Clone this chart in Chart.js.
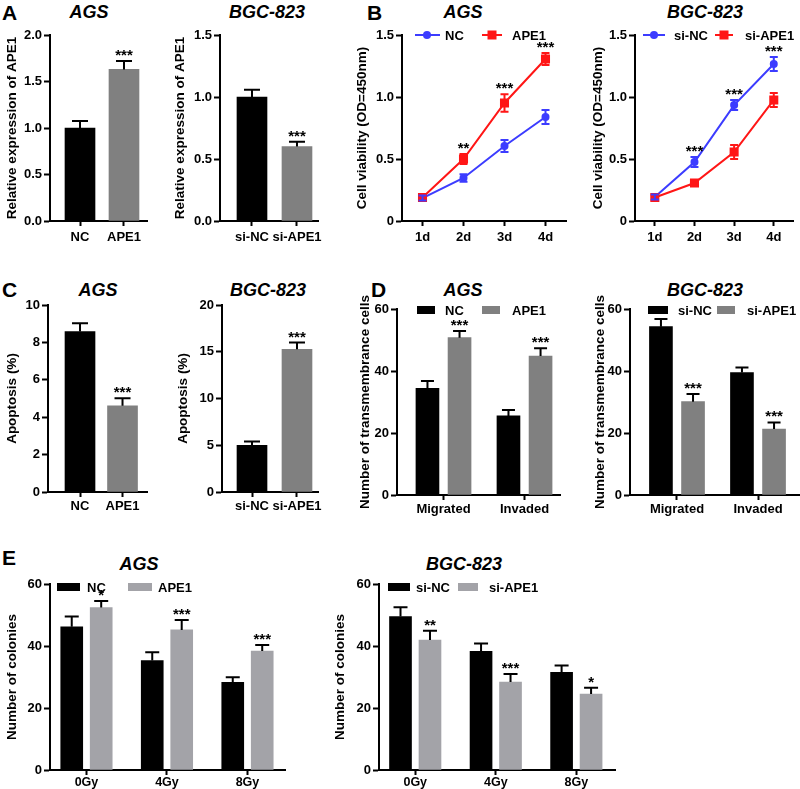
<!DOCTYPE html>
<html>
<head>
<meta charset="utf-8">
<script src="https://cdn.jsdelivr.net/npm/chart.js@4.4.0/dist/chart.umd.min.js"></script>
<style>
body { margin: 0; background: #fff; width: 800px; height: 789px; position: relative; overflow: hidden;
       font-family: 'Liberation Sans', Arial, sans-serif; }
canvas { position: absolute; }
.lbl { position: absolute; font-weight: bold; color: #000; white-space: nowrap; line-height: 1; }
.panel { font-size: 21px; }
.ttl { font-size: 18px; font-style: italic; transform: translate(-50%, -50%); }
</style>
</head>
<body>
<div class="lbl panel" style="left:2px;top:2px">A</div>
<div class="lbl panel" style="left:367px;top:2px">B</div>
<div class="lbl panel" style="left:2px;top:279px">C</div>
<div class="lbl panel" style="left:371px;top:279px">D</div>
<div class="lbl panel" style="left:2px;top:547px">E</div>

<div class="lbl ttl" style="left:89px;top:12px">AGS</div>
<div class="lbl ttl" style="left:267px;top:12px">BGC-823</div>
<div class="lbl ttl" style="left:463px;top:12px">AGS</div>
<div class="lbl ttl" style="left:705px;top:12px">BGC-823</div>
<div class="lbl ttl" style="left:98px;top:290px">AGS</div>
<div class="lbl ttl" style="left:268px;top:290px">BGC-823</div>
<div class="lbl ttl" style="left:463px;top:290px">AGS</div>
<div class="lbl ttl" style="left:705px;top:290px">BGC-823</div>
<div class="lbl ttl" style="left:139px;top:564px">AGS</div>
<div class="lbl ttl" style="left:464px;top:564px">BGC-823</div>

<canvas id="a1"></canvas>
<canvas id="a2"></canvas>
<canvas id="b1"></canvas>
<canvas id="b2"></canvas>
<canvas id="c1"></canvas>
<canvas id="c2"></canvas>
<canvas id="d1"></canvas>
<canvas id="d2"></canvas>
<canvas id="e1"></canvas>
<canvas id="e2"></canvas>

<script>
// ---- data ----
// A: relative APE1 expression
const aAgsGroups = ['NC', 'APE1'];
const aAgsExpr = [1.0, 1.63];
const aAgsSd = [0.075, 0.09];
const aAgsSig = ['', '***'];

const aBgcGroups = ['si-NC', 'si-APE1'];
const aBgcExpr = [1.0, 0.60];
const aBgcSd = [0.058, 0.04];
const aBgcSig = ['', '***'];

// B: cell viability (OD=450nm)
const days = ['1d', '2d', '3d', '4d'];
const bAgsNC = [0.185, 0.347, 0.605, 0.839];
const bAgsNCSd = [0.02, 0.03, 0.048, 0.056];
const bAgsAPE1 = [0.19, 0.50, 0.952, 1.306];
const bAgsAPE1Sd = [0.02, 0.04, 0.07, 0.048];
const bAgsSig = ['', '**', '***', '***'];

const bBgcSiNC = [0.194, 0.476, 0.935, 1.266];
const bBgcSiNCSd = [0.02, 0.04, 0.04, 0.056];
const bBgcSiAPE1 = [0.19, 0.306, 0.556, 0.976];
const bBgcSiAPE1Sd = [0.02, 0.024, 0.056, 0.056];
const bBgcSig = ['', '***', '***', '***'];

// C: apoptosis (%)
const cAgsApop = [8.58, 4.61];
const cAgsSd = [0.44, 0.41];
const cAgsSig = ['', '***'];
const cBgcApop = [4.98, 15.27];
const cBgcSd = [0.43, 0.71];
const cBgcSig = ['', '***'];

// D: transmembrance cells
const assays = ['Migrated', 'Invaded'];
const dAgsNC = [34.4, 25.5];
const dAgsNCSd = [2.4, 1.9];
const dAgsAPE1 = [50.75, 44.8];
const dAgsAPE1Sd = [2.15, 2.5];
const dAgsSig = ['***', '***'];
const dBgcSiNC = [54.3, 39.5];
const dBgcSiNCSd = [2.5, 1.6];
const dBgcSiAPE1 = [30.1, 21.3];
const dBgcSiAPE1Sd = [2.5, 2.1];
const dBgcSig = ['***', '***'];

// E: colonies after irradiation
const doses = ['0Gy', '4Gy', '8Gy'];
const eAgsNC = [46.2, 35.3, 28.3];
const eAgsNCSd = [3.3, 2.7, 1.6];
const eAgsAPE1 = [52.4, 45.2, 38.4];
const eAgsAPE1Sd = [2.1, 3.2, 1.9];
const eAgsSig = ['*', '***', '***'];
const eBgcSiNC = [49.5, 38.3, 31.5];
const eBgcSiNCSd = [3.0, 2.5, 2.2];
const eBgcSiAPE1 = [41.9, 28.4, 24.5];
const eBgcSiAPE1Sd = [3.0, 2.6, 2.0];
const eBgcSig = ['**', '***', '*'];

// ---- styling ----
const FONT = "'Liberation Sans', Arial, sans-serif";
const BLACK = '#000000';
const GRAY = '#808080';
const LIGHT_GRAY = '#a3a3a8';
const BLUE = '#3c3cff';
const RED = '#ff1616';

Chart.defaults.font.family = FONT;
Chart.defaults.font.weight = 'bold';
Chart.defaults.font.size = 13;
Chart.defaults.color = '#000';
Chart.defaults.animation = false;
Chart.defaults.plugins.legend.display = false;
Chart.defaults.plugins.tooltip.enabled = false;

// error bars + significance stars
const prismMarks = {
    id: 'prismMarks',
    afterDatasetsDraw(chart) {
        const ctx = chart.ctx;
        const ys = chart.scales.y;
        const isBar = chart.config.type === 'bar';
        chart.data.datasets.forEach((ds, di) => {
            if (!ds.sd) return;
            const meta = chart.getDatasetMeta(di);
            meta.data.forEach((el, i) => {
                const d = ds.data[i];
                const v = typeof d === 'object' ? d.y : d;
                const hi = ys.getPixelForValue(v + ds.sd[i]);
                const cap = ds.cap || 12;
                ctx.save();
                ctx.strokeStyle = isBar ? BLACK : ds.borderColor;
                ctx.lineWidth = 2;
                ctx.beginPath();
                if (isBar) {
                    ctx.moveTo(el.x, el.y);
                    ctx.lineTo(el.x, hi);
                    ctx.moveTo(el.x - cap / 2, hi);
                    ctx.lineTo(el.x + cap / 2, hi);
                } else {
                    const lo = ys.getPixelForValue(v - ds.sd[i]);
                    ctx.moveTo(el.x, lo);
                    ctx.lineTo(el.x, hi);
                    ctx.moveTo(el.x - cap / 2, hi);
                    ctx.lineTo(el.x + cap / 2, hi);
                    ctx.moveTo(el.x - cap / 2, lo);
                    ctx.lineTo(el.x + cap / 2, lo);
                }
                ctx.stroke();
                if (ds.sig && ds.sig[i]) {
                    ctx.fillStyle = BLACK;
                    ctx.font = 'bold 15px ' + FONT;
                    ctx.textAlign = 'center';
                    ctx.textBaseline = 'alphabetic';
                    ctx.fillText(ds.sig[i], el.x, hi - 1);
                }
                ctx.restore();
            });
        });
    }
};

// legend drawn inside the plot area, Prism style
const prismLegend = {
    id: 'prismLegend',
    afterDraw(chart, args, o) {
        if (!o || !o.items) return;
        const ctx = chart.ctx;
        const { left, top } = chart.chartArea;
        const y = top + (o.dy || 0);
        ctx.save();
        o.items.forEach(it => {
            if (it.kind === 'box') {
                ctx.fillStyle = it.color;
                ctx.fillRect(left + it.x0, y - 4, it.x1 - it.x0, 8);
            } else {
                ctx.strokeStyle = it.color;
                ctx.fillStyle = it.color;
                ctx.lineWidth = 2;
                ctx.beginPath();
                ctx.moveTo(left + it.x0, y);
                ctx.lineTo(left + it.x1, y);
                ctx.stroke();
                const mx = left + it.mx;
                if (it.marker === 'circle') {
                    ctx.beginPath();
                    ctx.arc(mx, y, 4, 0, Math.PI * 2);
                    ctx.fill();
                } else {
                    ctx.fillRect(mx - 4.5, y - 4.5, 9, 9);
                }
            }
            ctx.fillStyle = BLACK;
            ctx.font = 'bold 13px ' + FONT;
            ctx.textAlign = 'left';
            ctx.textBaseline = 'middle';
            ctx.fillText(it.text, left + it.tx, y + 1);
        });
        ctx.restore();
    }
};

Chart.register(prismMarks, prismLegend);

function yAxis(cfg, box, area) {
    return {
        min: 0,
        max: cfg.max,
        ticks: { stepSize: cfg.step, padding: 2, callback: cfg.fmt || (v => v) },
        grid: { display: true, drawOnChartArea: false, drawTicks: true, tickLength: 6, tickWidth: 2, tickColor: BLACK },
        border: { display: true, color: BLACK, width: 2 },
        title: {
            display: true, text: cfg.title, color: BLACK,
            font: { size: 13.5, weight: 'bold' },
            padding: { top: cfg.titlePad, bottom: 0 }
        },
        afterFit: s => { s.width = area.l - box.x; }
    };
}

function place(id, box) {
    const cv = document.getElementById(id);
    cv.width = box.w;
    cv.height = box.h;
    cv.style.left = box.x + 'px';
    cv.style.top = box.y + 'px';
    return cv;
}

function padding(box, area) {
    return { left: 0, top: area.t - box.y, right: box.x + box.w - area.r, bottom: 0 };
}

// bar charts on a linear x axis so bar centres can follow the original spacing
function barChart(id, box, area, cfg) {
    const cv = place(id, box);
    const datasets = cfg.series.map(s => ({
        data: s.values.map((v, i) => ({ x: i + 1 + (s.shift || 0), y: v })),
        backgroundColor: s.color,
        borderWidth: 0,
        barThickness: cfg.thickness,
        grouped: false,
        sd: s.sd,
        sig: s.sig,
        cap: cfg.cap
    }));
    return new Chart(cv.getContext('2d'), {
        type: 'bar',
        data: { datasets },
        options: {
            responsive: false,
            layout: { padding: padding(box, area) },
            scales: {
                x: {
                    type: 'linear',
                    min: cfg.xmin,
                    max: cfg.xmax,
                    offset: false,
                    afterBuildTicks: s => { s.ticks = cfg.groups.map((g, i) => ({ value: i + 1 })); },
                    ticks: {
                        autoSkip: false, maxRotation: 0, padding: cfg.tickPad,
                        font: { size: cfg.xFont || 13 },
                        callback: v => cfg.groups[Math.round(v) - 1] || ''
                    },
                    grid: { display: true, offset: false, drawOnChartArea: false, drawTicks: true, tickLength: 5, tickWidth: 2, tickColor: BLACK },
                    border: { display: true, color: BLACK, width: 2 },
                    afterFit: s => { s.height = box.y + box.h - area.b; }
                },
                y: yAxis(cfg.y, box, area)
            },
            plugins: { prismLegend: cfg.legend || {} }
        }
    });
}

function lineChart(id, box, area, cfg) {
    const cv = place(id, box);
    const datasets = cfg.series.map(s => ({
        data: s.values,
        borderColor: s.color,
        backgroundColor: s.color,
        borderWidth: 2,
        tension: 0,
        pointStyle: s.marker,
        pointRadius: s.marker === 'rect' ? 6.4 : 4,
        pointBorderWidth: 0,
        sd: s.sd,
        sig: s.sig,
        cap: 8
    }));
    return new Chart(cv.getContext('2d'), {
        type: 'line',
        data: { labels: days, datasets },
        options: {
            responsive: false,
            layout: { padding: padding(box, area) },
            scales: {
                x: {
                    type: 'category',
                    offset: true,
                    ticks: { padding: 4, maxRotation: 0 },
                    grid: { display: true, offset: false, drawOnChartArea: false, drawTicks: true, tickLength: 5, tickWidth: 2, tickColor: BLACK },
                    border: { display: true, color: BLACK, width: 2 },
                    afterFit: s => { s.height = box.y + box.h - area.b; }
                },
                y: yAxis(cfg.y, box, area)
            },
            plugins: { prismLegend: cfg.legend || {} }
        }
    });
}

const oneDec = v => v.toFixed(1);
const zeroPlain = v => (v === 0 ? '0' : v.toFixed(1));

// ---- A ----
barChart('a1', { x: 0, y: 20, w: 160, h: 232 }, { l: 50, t: 35, r: 147, b: 221 }, {
    groups: aAgsGroups, xmin: 0.318, xmax: 2.523, thickness: 30, cap: 16, tickPad: 4,
    series: [{ values: aAgsExpr, sd: aAgsSd, sig: aAgsSig, color: [BLACK, GRAY] }],
    y: { max: 2, step: 0.5, fmt: oneDec, title: 'Relative expression of APE1', titlePad: 4 }
});
barChart('a2', { x: 165, y: 20, w: 165, h: 232 }, { l: 220, t: 35, r: 318, b: 221 }, {
    groups: aBgcGroups, xmin: 0.289, xmax: 2.467, thickness: 30, cap: 16, tickPad: 4,
    series: [{ values: aBgcExpr, sd: aBgcSd, sig: aBgcSig, color: [BLACK, GRAY] }],
    y: { max: 1.5, step: 0.5, fmt: oneDec, title: 'Relative expression of APE1', titlePad: 7 }
});

// ---- B ----
lineChart('b1', { x: 350, y: 20, w: 225, h: 232 }, { l: 402, t: 35, r: 566, b: 221 }, {
    series: [
        { values: bAgsAPE1, sd: bAgsAPE1Sd, sig: bAgsSig, color: RED, marker: 'rect' },
        { values: bAgsNC, sd: bAgsNCSd, color: BLUE, marker: 'circle' }
    ],
    y: { max: 1.5, step: 0.5, fmt: zeroPlain, title: 'Cell viability (OD=450nm)', titlePad: 4 },
    legend: { dy: 0, items: [
        { kind: 'line', color: BLUE, x0: 13, x1: 38, mx: 25, marker: 'circle', tx: 43, text: 'NC' },
        { kind: 'line', color: RED, x0: 80, x1: 100, mx: 90, marker: 'rect', tx: 110, text: 'APE1' }
    ] }
});
lineChart('b2', { x: 585, y: 20, w: 215, h: 232 }, { l: 635, t: 35, r: 799, b: 221 }, {
    series: [
        { values: bBgcSiAPE1, sd: bBgcSiAPE1Sd, color: RED, marker: 'rect' },
        { values: bBgcSiNC, sd: bBgcSiNCSd, sig: bBgcSig, color: BLUE, marker: 'circle' }
    ],
    y: { max: 1.5, step: 0.5, fmt: zeroPlain, title: 'Cell viability (OD=450nm)', titlePad: 5 },
    legend: { dy: 0, items: [
        { kind: 'line', color: BLUE, x0: 8, x1: 30, mx: 19, marker: 'circle', tx: 39, text: 'si-NC' },
        { kind: 'line', color: RED, x0: 80, x1: 98, mx: 89, marker: 'rect', tx: 110, text: 'si-APE1' }
    ] }
});

// ---- C ----
barChart('c1', { x: 0, y: 290, w: 160, h: 230 }, { l: 48, t: 305, r: 147, b: 492 }, {
    groups: aAgsGroups, xmin: 0.247, xmax: 2.576, thickness: 30, cap: 16, tickPad: 2,
    series: [{ values: cAgsApop, sd: cAgsSd, sig: cAgsSig, color: [BLACK, GRAY] }],
    y: { max: 10, step: 2, title: 'Apoptosis (%)', titlePad: 4 }
});
barChart('c2', { x: 165, y: 290, w: 165, h: 230 }, { l: 222, t: 305, r: 318, b: 492 }, {
    groups: aBgcGroups, xmin: 0.333, xmax: 2.467, thickness: 30, cap: 16, tickPad: 2,
    series: [{ values: cBgcApop, sd: cBgcSd, sig: cBgcSig, color: [BLACK, GRAY] }],
    y: { max: 20, step: 5, title: 'Apoptosis (%)', titlePad: 10 }
});

// ---- D ----
barChart('d1', { x: 350, y: 290, w: 225, h: 230 }, { l: 397, t: 309, r: 560, b: 495 }, {
    groups: assays, xmin: 0.426, xmax: 2.438, thickness: 23, cap: 13, tickPad: 2,
    series: [
        { values: dAgsNC, sd: dAgsNCSd, color: BLACK, shift: -0.198 },
        { values: dAgsAPE1, sd: dAgsAPE1Sd, sig: dAgsSig, color: GRAY, shift: 0.198 }
    ],
    y: { max: 60, step: 20, title: 'Number of transmembrance cells', titlePad: 7 },
    legend: { dy: 1, items: [
        { kind: 'box', color: BLACK, x0: 20, x1: 38, tx: 48, text: 'NC' },
        { kind: 'box', color: GRAY, x0: 85, x1: 103, tx: 115, text: 'APE1' }
    ] }
});
barChart('d2', { x: 585, y: 290, w: 215, h: 230 }, { l: 630, t: 309, r: 799, b: 495 }, {
    groups: assays, xmin: 0.42, xmax: 2.506, thickness: 23, cap: 13, tickPad: 2,
    series: [
        { values: dBgcSiNC, sd: dBgcSiNCSd, color: BLACK, shift: -0.198 },
        { values: dBgcSiAPE1, sd: dBgcSiAPE1Sd, sig: dBgcSig, color: GRAY, shift: 0.198 }
    ],
    y: { max: 60, step: 20, title: 'Number of transmembrance cells', titlePad: 7 },
    legend: { dy: 1, items: [
        { kind: 'box', color: BLACK, x0: 18, x1: 38, tx: 48, text: 'si-NC' },
        { kind: 'box', color: GRAY, x0: 87, x1: 105, tx: 117, text: 'si-APE1' }
    ] }
});

// ---- E ----
barChart('e1', { x: 0, y: 570, w: 300, h: 219 }, { l: 50, t: 584, r: 285, b: 770 }, {
    groups: doses, xmin: 0.547, xmax: 3.466, thickness: 22, cap: 14, tickPad: 0, xFont: 12.5,
    series: [
        { values: eAgsNC, sd: eAgsNCSd, color: BLACK, shift: -0.183 },
        { values: eAgsAPE1, sd: eAgsAPE1Sd, sig: eAgsSig, color: LIGHT_GRAY, shift: 0.183 }
    ],
    y: { max: 60, step: 20, title: 'Number of colonies', titlePad: 4 },
    legend: { dy: 3, items: [
        { kind: 'box', color: BLACK, x0: 7, x1: 30, tx: 37, text: 'NC' },
        { kind: 'box', color: LIGHT_GRAY, x0: 78, x1: 102, tx: 108, text: 'APE1' }
    ] }
});
barChart('e2', { x: 325, y: 570, w: 300, h: 219 }, { l: 379, t: 584, r: 615, b: 770 }, {
    groups: doses, xmin: 0.55, xmax: 3.48, thickness: 22, cap: 14, tickPad: 0, xFont: 12.5,
    series: [
        { values: eBgcSiNC, sd: eBgcSiNCSd, color: BLACK, shift: -0.183 },
        { values: eBgcSiAPE1, sd: eBgcSiAPE1Sd, sig: eBgcSig, color: LIGHT_GRAY, shift: 0.183 }
    ],
    y: { max: 60, step: 20, title: 'Number of colonies', titlePad: 7 },
    legend: { dy: 3, items: [
        { kind: 'box', color: BLACK, x0: 9, x1: 31, tx: 37, text: 'si-NC' },
        { kind: 'box', color: LIGHT_GRAY, x0: 79, x1: 99, tx: 110, text: 'si-APE1' }
    ] }
});
</script>
</body>
</html>
